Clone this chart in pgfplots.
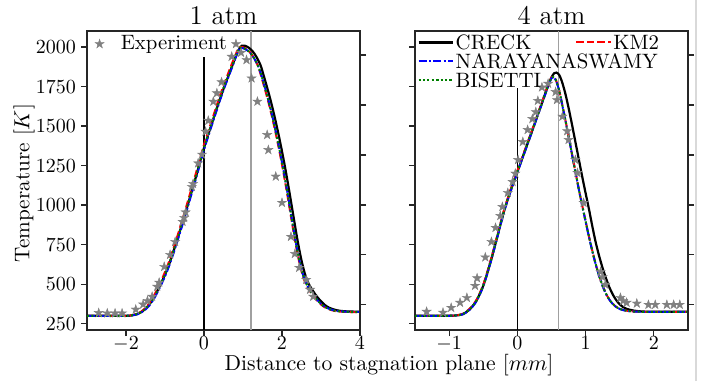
\documentclass[border=0pt]{standalone}
\usepackage{pgfplots}
\pgfplotsset{compat=1.18}
\pgfdeclareplotmark{fstar}{%
  \pgfpathmoveto{\pgfpointpolar{90}{\pgfplotmarksize}}%
  \pgfpathlineto{\pgfpointpolar{126}{0.382\pgfplotmarksize}}%
  \pgfpathlineto{\pgfpointpolar{162}{\pgfplotmarksize}}%
  \pgfpathlineto{\pgfpointpolar{198}{0.382\pgfplotmarksize}}%
  \pgfpathlineto{\pgfpointpolar{234}{\pgfplotmarksize}}%
  \pgfpathlineto{\pgfpointpolar{270}{0.382\pgfplotmarksize}}%
  \pgfpathlineto{\pgfpointpolar{306}{\pgfplotmarksize}}%
  \pgfpathlineto{\pgfpointpolar{342}{0.382\pgfplotmarksize}}%
  \pgfpathlineto{\pgfpointpolar{18}{\pgfplotmarksize}}%
  \pgfpathlineto{\pgfpointpolar{54}{0.382\pgfplotmarksize}}%
  \pgfpathclose\pgfusepathqfillstroke}
\definecolor{expgray}{RGB}{128,128,128}
\definecolor{vgray}{RGB}{160,160,160}
\definecolor{mred}{RGB}{255,0,0}
\definecolor{mblue}{RGB}{0,0,255}
\definecolor{mgreen}{RGB}{0,128,0}
\pgfplotsset{
  panel/.style={
    width=136.5pt, height=149.5pt, scale only axis,
    ymin=210, ymax=2101,
    ytick={250,500,750,1000,1250,1500,1750,2000},
    tick align=outside, tick pos=left,
    major tick length=3pt,
    axis line style={black!85, line width=0.6pt},
    every tick/.style={black!85, line width=0.6pt},
    tick label style={font=\fontsize{10}{12}\selectfont},
    xticklabel style={yshift=3pt},
    yticklabel style={xshift=1pt},
    title style={font=\fontsize{13.5}{15}\selectfont, yshift=-6.5pt},
  },
  twin/.style={
    width=136.5pt, height=149.5pt, scale only axis,
    ymin=210, ymax=2101, xmin=0, xmax=1,
    axis x line=none, axis y line*=right,
    ytick={369,685,1001,1317,1633,1949}, yticklabels={},
    tick align=outside, major tick length=3pt,
    axis line style={black!85, line width=0.6pt},
    every tick/.style={black!85, line width=0.6pt},
  },
  creck/.style={black, line width=1.1pt, smooth},
  km2/.style={mred, line width=1pt, dash pattern=on 3.5pt off 1.8pt, smooth},
  nara/.style={mblue, line width=1pt, dash pattern=on 4pt off 1.2pt on 1pt off 1.2pt, smooth},
  bise/.style={mgreen, line width=1pt, dash pattern=on 1pt off 1.2pt, smooth},
  expm/.style={only marks, mark=fstar, mark size=2.4pt, expgray, mark options={fill=expgray, draw=expgray, line width=0.2pt}},
}
\begin{document}
\begin{tikzpicture}
\path[use as bounding box] (0,0) rectangle (351pt,190.5pt);
% ---------------- left panel: 1 atm
\begin{axis}[panel, at={(43.5pt,25.5pt)}, anchor=south west,
  xmin=-3, xmax=4, xtick={-2,0,2,4},
  yticklabels={250,500,750,1000,1250,1500,1750,2000},
  title={1 atm},
  legend style={at={(0,1)}, anchor=north west, draw=none, fill=none,
    font=\fontsize{10.4}{12}\selectfont, inner sep=1pt,
    nodes={inner sep=1pt}},
  legend image code/.code={\path (0pt,0pt) (14.3pt,0pt); \draw[#1] plot coordinates {(4.9pt,0pt)};},
]
\addplot[black, line width=0.6pt, forget plot] coordinates {(0,210) (0,1937)};
\addplot[vgray, line width=0.8pt, forget plot] coordinates {(1.2,210) (1.2,2101)};
\addplot[creck, forget plot] coordinates {
(-3,300) (-2.5,300) (-2.0,300) (-1.9,301) (-1.8,305) (-1.7,312) (-1.6,325) (-1.5,345)
(-1.4,372) (-1.3,410) (-1.2,455) (-1.1,505) (-1.0,560) (-0.9,622) (-0.8,695) (-0.7,770)
(-0.6,850) (-0.5,930) (-0.4,1015) (-0.3,1100) (-0.2,1185) (-0.1,1275) (0,1362)
(0.1,1440) (0.2,1515) (0.3,1590) (0.4,1665) (0.5,1735) (0.6,1800) (0.7,1865)
(0.8,1930) (0.9,1985) (0.97,2008) (1.05,2008) (1.15,1995) (1.25,1972) (1.35,1935)
(1.45,1885) (1.5,1845) (1.6,1760) (1.7,1670) (1.8,1570) (1.9,1460) (2.0,1340)
(2.1,1210) (2.2,1068) (2.3,920) (2.4,775) (2.5,650) (2.6,555) (2.7,495) (2.8,455)
(2.9,420) (3.0,392) (3.1,368) (3.2,352) (3.3,342) (3.4,335) (3.5,331) (3.7,327) (4,326)};
\addplot[km2, forget plot] coordinates {
(-3,300) (-2.5,300) (-2.0,300) (-1.9,302) (-1.8,306) (-1.7,314) (-1.6,328) (-1.5,350)
(-1.4,380) (-1.3,420) (-1.2,467) (-1.1,520) (-1.0,577) (-0.9,640) (-0.8,713) (-0.7,790)
(-0.6,870) (-0.5,952) (-0.4,1037) (-0.3,1122) (-0.2,1208) (-0.1,1297) (0,1382)
(0.1,1460) (0.2,1535) (0.3,1610) (0.4,1685) (0.5,1755) (0.6,1820) (0.7,1885)
(0.8,1945) (0.87,1985) (0.92,2000) (0.99,1999) (1.09,1987) (1.19,1964) (1.29,1927)
(1.39,1877) (1.44,1837) (1.54,1752) (1.64,1662) (1.74,1562) (1.84,1452) (1.94,1332)
(2.04,1202) (2.14,1060) (2.24,912) (2.34,767) (2.44,642) (2.54,547) (2.64,487)
(2.74,447) (2.84,413) (2.94,386) (3.04,363) (3.14,348) (3.24,338) (3.34,331)
(3.44,327) (3.7,324) (4,323)};
\addplot[nara, forget plot] coordinates {
(-3,300) (-2.5,300) (-2.0,300) (-1.9,301) (-1.8,304) (-1.7,310) (-1.6,322) (-1.5,340)
(-1.4,365) (-1.3,400) (-1.2,445) (-1.1,495) (-1.0,550) (-0.9,611) (-0.8,683) (-0.7,758)
(-0.6,837) (-0.5,917) (-0.4,1002) (-0.3,1087) (-0.2,1172) (-0.1,1262) (0,1350)
(0.1,1428) (0.2,1505) (0.3,1580) (0.4,1655) (0.5,1727) (0.6,1793) (0.7,1858)
(0.8,1925) (0.87,1970) (0.93,1994) (1.0,1992) (1.1,1980) (1.2,1958) (1.3,1922)
(1.4,1872) (1.45,1838) (1.55,1755) (1.65,1665) (1.75,1565) (1.85,1455) (1.95,1335)
(2.05,1205) (2.15,1065) (2.25,915) (2.35,770) (2.45,645) (2.55,550) (2.65,490)
(2.75,450) (2.85,415) (2.95,388) (3.05,365) (3.15,350) (3.25,340) (3.35,333)
(3.45,329) (3.7,325) (4,324)};
\addplot[bise, forget plot] coordinates {
(-3,300) (-2.5,300) (-2.0,300) (-1.9,301) (-1.8,305) (-1.7,312) (-1.6,325) (-1.5,345)
(-1.4,372) (-1.3,410) (-1.2,455) (-1.1,506) (-1.0,562) (-0.9,625) (-0.8,698) (-0.7,773)
(-0.6,853) (-0.5,933) (-0.4,1018) (-0.3,1103) (-0.2,1188) (-0.1,1278) (0,1364)
(0.1,1442) (0.2,1518) (0.3,1593) (0.4,1668) (0.5,1740) (0.6,1806) (0.7,1870)
(0.8,1934) (0.87,1976) (0.92,1996) (1.0,1994) (1.1,1982) (1.2,1960) (1.3,1924)
(1.4,1874) (1.45,1838) (1.55,1754) (1.65,1664) (1.75,1564) (1.85,1454) (1.95,1334)
(2.05,1204) (2.15,1063) (2.25,914) (2.35,769) (2.45,644) (2.55,549) (2.65,489)
(2.75,449) (2.85,414) (2.95,387) (3.05,364) (3.15,349) (3.25,339) (3.35,332)
(3.45,328) (3.7,324) (4,324)};
\addplot[expm] coordinates {
(-2.70,318) (-2.48,316) (-2.28,316) (-2.10,316) (-1.75,340) (-1.56,372) (-1.45,395)
(-1.33,421) (-1.20,484) (-1.15,510) (-1.02,610) (-0.87,686) (-0.74,768) (-0.55,895)
(-0.51,920) (-0.47,955) (-0.31,1116) (-0.28,1135) (-0.15,1265) (-0.05,1320)
(0.04,1465) (0.11,1534) (0.24,1655) (0.33,1708) (0.45,1778) (0.71,1939) (0.82,2019)
(0.95,1964) (1.09,1918) (1.22,1802) (1.37,1655) (1.62,1444) (1.65,1349) (1.84,1181)
(2.0,1015) (2.23,800) (2.33,692) (2.44,604) (2.62,528) (2.72,465) (2.8,421)};
\addlegendentry{Experiment}
\end{axis}
\begin{axis}[twin, at={(43.5pt,25.5pt)}, anchor=south west]
\end{axis}
% ---------------- right panel: 4 atm
\begin{axis}[panel, at={(207.5pt,25.5pt)}, anchor=south west,
  xmin=-1.5, xmax=2.5, xtick={-1,0,1,2},
  yticklabels={},
  title={4 atm},
  legend columns=2,
  legend cell align=left,
  legend style={at={(0,1)}, anchor=north west, draw=none, fill=none,
    font=\fontsize{10.4}{12}\selectfont, inner sep=1pt,
    nodes={inner sep=1pt, text height=7pt, text depth=0pt},
    /tikz/every even column/.append style={column sep=16pt},
    row sep=0.5pt},
]
\addplot[black, line width=0.6pt, forget plot] coordinates {(0,210) (0,1740)};
\addplot[vgray, line width=0.8pt, forget plot] coordinates {(0.6,210) (0.6,2101)};
\addplot[creck] coordinates {
(-1.5,300) (-1.2,300) (-1.0,300) (-0.9,302) (-0.8,310) (-0.7,340) (-0.6,395) (-0.5,490)
(-0.4,630) (-0.3,790) (-0.2,955) (-0.1,1090) (0,1210) (0.1,1330) (0.2,1450) (0.3,1572)
(0.4,1695) (0.45,1755) (0.5,1808) (0.54,1834) (0.57,1838) (0.61,1825) (0.65,1785)
(0.7,1710) (0.75,1615) (0.8,1510) (0.85,1400) (0.9,1290) (0.95,1180) (1.0,1075)
(1.05,972) (1.1,862) (1.15,760) (1.2,675) (1.25,600) (1.3,535) (1.35,478) (1.4,433)
(1.45,398) (1.5,372) (1.55,355) (1.6,344) (1.7,333) (1.8,328) (1.9,326) (2.2,325) (2.5,325)};
\addlegendentry{CRECK}
\addplot[km2] coordinates {
(-1.5,300) (-1.2,300) (-1.0,300) (-0.9,303) (-0.8,312) (-0.7,344) (-0.6,400) (-0.5,497)
(-0.4,638) (-0.3,798) (-0.2,962) (-0.1,1097) (0,1217) (0.1,1337) (0.2,1457) (0.3,1578)
(0.4,1700) (0.45,1760) (0.49,1800) (0.52,1812) (0.56,1795) (0.61,1730) (0.66,1630)
(0.71,1525) (0.76,1415) (0.81,1300) (0.86,1190) (0.91,1080) (0.96,978) (1.01,878)
(1.06,780) (1.11,690) (1.16,608) (1.21,538) (1.26,478) (1.31,430) (1.36,395)
(1.41,370) (1.46,353) (1.51,342) (1.6,332) (1.7,327) (1.85,325) (2.2,324) (2.5,324)};
\addlegendentry{KM2}
\addplot[nara] coordinates {
(-1.5,300) (-1.2,300) (-1.0,300) (-0.9,302) (-0.8,309) (-0.7,338) (-0.6,392) (-0.5,487)
(-0.4,626) (-0.3,786) (-0.2,950) (-0.1,1086) (0,1206) (0.1,1326) (0.2,1446) (0.3,1568)
(0.4,1690) (0.45,1752) (0.49,1795) (0.52,1808) (0.56,1792) (0.61,1728) (0.66,1628)
(0.71,1522) (0.76,1412) (0.81,1298) (0.86,1188) (0.91,1078) (0.96,976) (1.01,876)
(1.06,778) (1.11,688) (1.16,606) (1.21,536) (1.26,476) (1.31,429) (1.36,394)
(1.41,369) (1.46,352) (1.51,341) (1.6,331) (1.7,327) (1.85,325) (2.2,325) (2.5,325)};
\addlegendentry{\rlap{NARAYANASWAMY}}
\addlegendimage{empty legend}
\addlegendentry{}
\addplot[bise] coordinates {
(-1.5,300) (-1.2,300) (-1.0,300) (-0.9,302) (-0.8,310) (-0.7,341) (-0.6,396) (-0.5,492)
(-0.4,632) (-0.3,792) (-0.2,956) (-0.1,1092) (0,1212) (0.1,1332) (0.2,1452) (0.3,1573)
(0.4,1695) (0.45,1756) (0.49,1797) (0.52,1810) (0.56,1794) (0.61,1729) (0.66,1629)
(0.71,1523) (0.76,1413) (0.81,1299) (0.86,1189) (0.91,1079) (0.96,977) (1.01,877)
(1.06,779) (1.11,689) (1.16,607) (1.21,537) (1.26,477) (1.31,430) (1.36,395)
(1.41,370) (1.46,353) (1.51,342) (1.6,332) (1.7,327) (1.85,325) (2.2,324) (2.5,324)};
\addlegendentry{BISETTI}
\addplot[expm, forget plot] coordinates {
(-1.33,326) (-1.09,320) (-0.97,351) (-0.84,383) (-0.74,414) (-0.62,490) (-0.59,538)
(-0.47,670) (-0.38,768) (-0.32,857) (-0.25,932) (-0.22,989) (-0.14,1078) (-0.07,1147)
(-0.03,1200) (0.01,1286) (0.08,1400) (0.15,1476) (0.22,1545) (0.27,1589) (0.30,1660)
(0.36,1745) (0.45,1768) (0.56,1716) (0.58,1665) (0.66,1560) (0.73,1468) (0.75,1413)
(0.85,1286) (0.88,1204) (0.97,1015) (1.22,578) (1.25,545) (1.29,497) (1.51,414)
(1.55,395) (1.6,383) (1.75,378) (1.92,370) (2.02,370) (2.19,370) (2.29,370) (2.38,370)};
\end{axis}
\begin{axis}[twin, at={(207.5pt,25.5pt)}, anchor=south west]
\end{axis}
% shared labels
\node[rotate=90, font=\fontsize{10.6}{12}\selectfont] at (12pt,99pt) {Temperature [$K$]};
\node[font=\fontsize{10.8}{12}\selectfont] at (194.5pt,8pt) {Distance to stagnation plane [$mm$]};
\draw[black!15, line width=0.6pt] (348pt,0) -- (348pt,190.5pt);
\end{tikzpicture}
\end{document}
